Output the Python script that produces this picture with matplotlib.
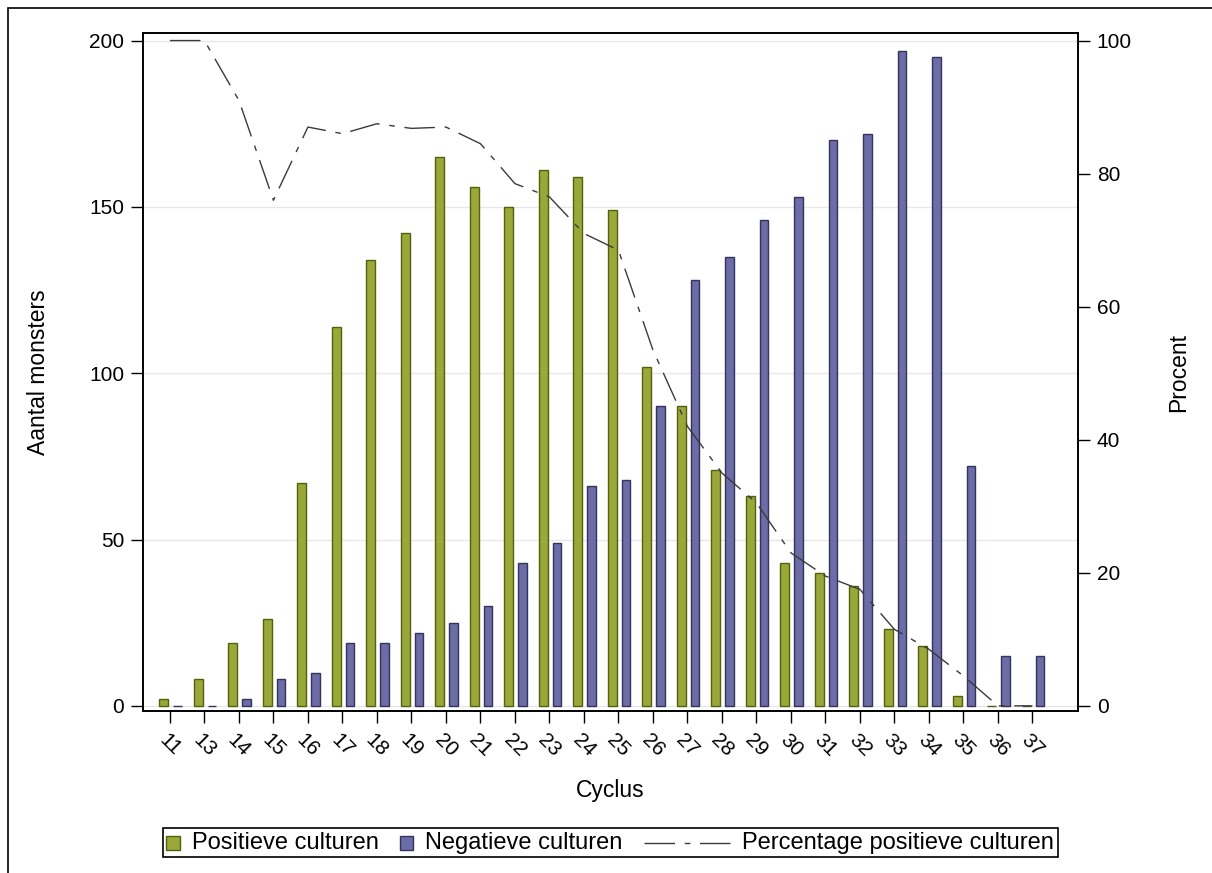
import numpy as np
import matplotlib.pyplot as plt
from matplotlib.patches import Rectangle
from matplotlib.lines import Line2D
from matplotlib.offsetbox import AnchoredOffsetbox, HPacker, DrawingArea, TextArea

plt.rcParams['font.family'] = ['Liberation Sans', 'DejaVu Sans']

# data
cycli = ['11', '13', '14', '15', '16', '17', '18', '19', '20', '21', '22', '23', '24',
         '25', '26', '27', '28', '29', '30', '31', '32', '33', '34', '35', '36', '37']
positief = [2, 8, 19, 26, 67, 114, 134, 142, 165, 156, 150, 161, 159,
            149, 102, 90, 71, 63, 43, 40, 36, 23, 18, 3, 0, 0]
negatief = [0, 0, 2, 8, 10, 19, 19, 22, 25, 30, 43, 49, 66,
            68, 90, 128, 135, 146, 153, 170, 172, 197, 195, 72, 15, 15]
percentage = [100, 100, 91, 76, 87, 86, 87.5, 86.8, 87, 84.5, 78.5, 76.5, 71,
              68.5, 53.5, 42, 35, 30.5, 23, 19.5, 17.5, 11.5, 8.5, 4.5, 0, 0]

green, green_edge = '#9aa83a', '#55600f'
blue, blue_edge = '#6c6ca6', '#33335e'
line_col = '#3a3a3a'
dash = (22, 7, 4, 7)

fig = plt.figure(figsize=(12.12, 8.73), dpi=100)
ax = fig.add_axes([0.118, 0.185, 0.7714, 0.7773])

x = np.arange(len(cycli))
ax.bar(x - 0.18, positief, width=0.25, color=green, edgecolor=green_edge, linewidth=1)
ax.bar(x + 0.22, negatief, width=0.25, color=blue, edgecolor=blue_edge, linewidth=1)

ax.set_xlim(-0.78, 26.32)
ax.set_ylim(-1.7, 202.3)
ax.set_yticks([0, 50, 100, 150, 200])
ax.set_xticks(x)
ax.set_xticklabels(cycli, rotation=-45, ha='center')
ax.yaxis.grid(True, color='#e8e8e8', linewidth=1)
ax.set_axisbelow(True)
ax.tick_params(axis='both', direction='out', length=8.5, width=1, labelsize=15, pad=5)

ax.set_xlabel('Cyclus', fontsize=16.5)
ax.xaxis.set_label_coords(0.5, -0.10)
ax.set_ylabel('Aantal monsters', fontsize=16.5)
ax.yaxis.set_label_coords(-0.0995, 0.5)

ax2 = ax.twinx()
ax2.plot(x, percentage, color=line_col, linewidth=1, dashes=dash)
ax2.set_ylim(-0.85, 101.15)
ax2.set_yticks([0, 20, 40, 60, 80, 100])
ax2.tick_params(axis='y', direction='out', length=8.5, width=1, labelsize=15, pad=5)
ax2.set_ylabel('Procent', fontsize=16.5)
ax2.yaxis.set_label_coords(1.095, 0.5)

for a in (ax, ax2):
    for s in a.spines.values():
        s.set_linewidth(1.2)

# legend built from small boxes so each handle can have its own size
def square(face, edge):
    da = DrawingArea(9.5, 9.5, 0, 0)
    da.add_artist(Rectangle((0, 0), 9.5, 9.5, facecolor=face, edgecolor=edge, linewidth=1))
    return da

def dashed():
    da = DrawingArea(62, 9.5, 0, 0)
    da.add_artist(Line2D([0, 62], [4.75, 4.75], color=line_col, linewidth=1, dashes=dash))
    return da

tp = dict(fontsize=17)
entries = [
    HPacker(children=[square(green, green_edge), TextArea('Positieve culturen', textprops=tp)],
            align='center', pad=0, sep=9),
    HPacker(children=[square(blue, blue_edge), TextArea('Negatieve culturen', textprops=tp)],
            align='center', pad=0, sep=9),
    HPacker(children=[dashed(), TextArea('Percentage positieve culturen', textprops=tp)],
            align='center', pad=0, sep=9),
]
box = HPacker(children=entries, align='center', pad=0, sep=15)
leg = AnchoredOffsetbox(loc='center', child=box, pad=0.25, borderpad=0, frameon=True,
                        bbox_to_anchor=(0.5035, 0.0344), bbox_transform=fig.transFigure)
leg.patch.set_edgecolor('black')
leg.patch.set_linewidth(1.2)
fig.add_artist(leg)

# outer frame of the picture (right and bottom edges fall outside the image)
fig.add_artist(Rectangle((8 / 1212, -0.01), 1.01, 1.01 - 8 / 873, transform=fig.transFigure,
                         fill=False, edgecolor='black', linewidth=1.2))

fig.savefig('out.png', dpi=100)
